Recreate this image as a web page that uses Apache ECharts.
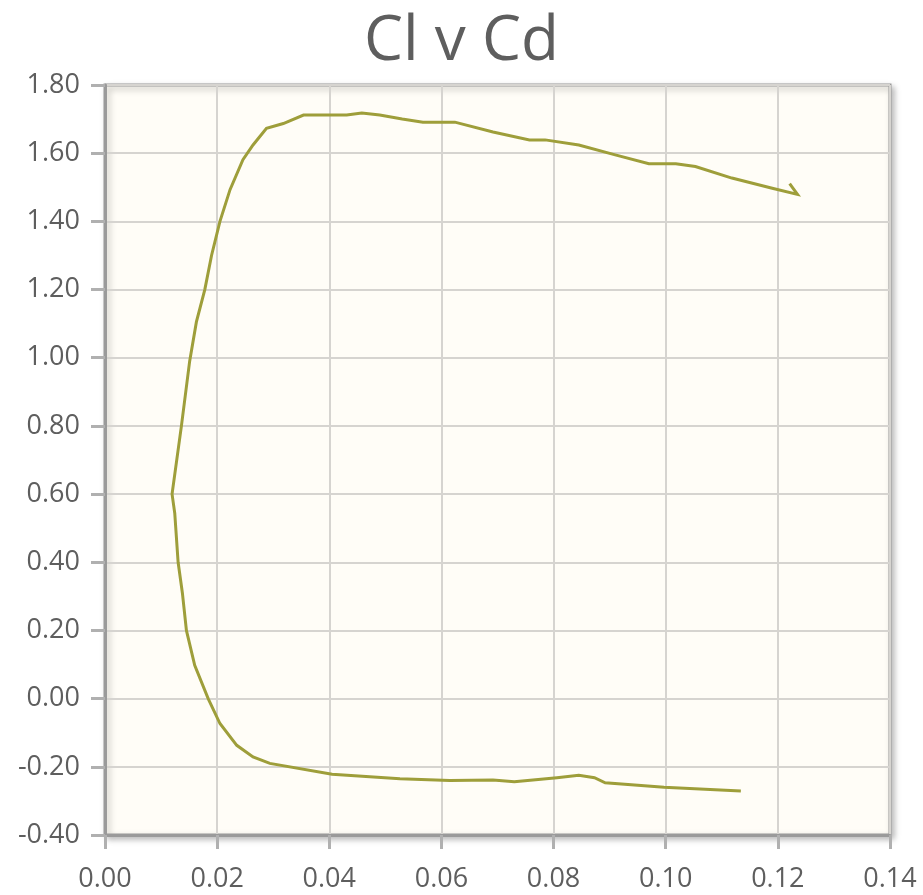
<!DOCTYPE html>
<html>
<head>
<meta charset="utf-8">
<script src="https://cdn.jsdelivr.net/npm/echarts@6/dist/echarts.min.js"></script>
<style>html,body{margin:0;padding:0;background:#fff;}#c{width:923px;height:895px;}</style>
</head>
<body>
<div id="c"></div>
<script>
const title = "Cl v Cd";
const cd = [0.1134,0.0997,0.0892,0.0873,0.0845,0.0806,0.0730,0.0692,0.0615,0.0526,0.0405,0.0294,0.0264,0.0235,0.0205,0.0184,0.0160,0.01452,0.0138,0.01304,0.01244,0.01196,0.01363,0.0151,0.0163,0.0178,0.0190,0.0205,0.0223,0.0246,0.0264,0.0288,0.0318,0.0354,0.0400,0.0431,0.0458,0.0490,0.0530,0.0567,0.0624,0.0692,0.0757,0.0785,0.0845,0.0910,0.0970,0.1018,0.1053,0.1118,0.1190,0.1235,0.1221];
const cl = [-0.271,-0.260,-0.247,-0.232,-0.225,-0.232,-0.244,-0.239,-0.240,-0.235,-0.222,-0.190,-0.171,-0.137,-0.073,0.000,0.098,0.200,0.310,0.400,0.544,0.600,0.800,0.990,1.105,1.200,1.300,1.400,1.493,1.581,1.624,1.673,1.687,1.712,1.712,1.712,1.718,1.712,1.700,1.691,1.691,1.662,1.639,1.639,1.624,1.595,1.569,1.569,1.561,1.527,1.497,1.479,1.511];
const xTicks = [0.00,0.02,0.04,0.06,0.08,0.10,0.12,0.14];
const yTicks = [-0.40,-0.20,0.00,0.20,0.40,0.60,0.80,1.00,1.20,1.40,1.60,1.80];

const chart = echarts.init(document.getElementById('c'));
const font = "'Open Sans', 'DejaVu Sans', sans-serif";
chart.setOption({
  animation: false,
  title: {
    text: title, left: 'center', top: 0,
    textStyle: { fontFamily: font, fontSize: 62, fontWeight: 'normal', color: '#5e5e5e', lineHeight: 74 }
  },
  grid: {
    left: 105, right: 33, top: 85, bottom: 60,
    show: true, backgroundColor: '#fffdf7', borderColor: '#9a9a9a', borderWidth: 3,
    shadowColor: 'rgba(0,0,0,0.25)', shadowBlur: 6, shadowOffsetX: 3, shadowOffsetY: 3
  },
  xAxis: {
    type: 'value', min: xTicks[0], max: xTicks[xTicks.length-1], interval: 0.02,
    axisLine: { show: true, onZero: false, lineStyle: { color: '#9a9a9a', width: 3 } },
    axisTick: { show: true, length: 14, lineStyle: { color: '#b0b0b0', width: 3 } },
    axisLabel: { margin: 31, fontFamily: font, fontSize: 27, color: '#5e5e5e', formatter: v => v.toFixed(2) },
    splitLine: { show: true, lineStyle: { color: '#d6d4d0', width: 2 } }
  },
  yAxis: {
    type: 'value', min: yTicks[0], max: yTicks[yTicks.length-1], interval: 0.2,
    axisLine: { show: true, onZero: false, lineStyle: { color: '#9a9a9a', width: 3 } },
    axisTick: { show: true, length: 14, lineStyle: { color: '#b0b0b0', width: 3 } },
    axisLabel: { margin: 25, fontFamily: font, fontSize: 27, color: '#5e5e5e', formatter: v => v.toFixed(2) },
    splitLine: { show: true, lineStyle: { color: '#d6d4d0', width: 2 } }
  },
  series: [{
    type: 'line',
    data: cd.map((x, i) => [x, cl[i]]),
    showSymbol: false, smooth: false,
    lineStyle: { color: '#9e9e3a', width: 3, join: 'miter' }
  }]
});
</script>
</body>
</html>
